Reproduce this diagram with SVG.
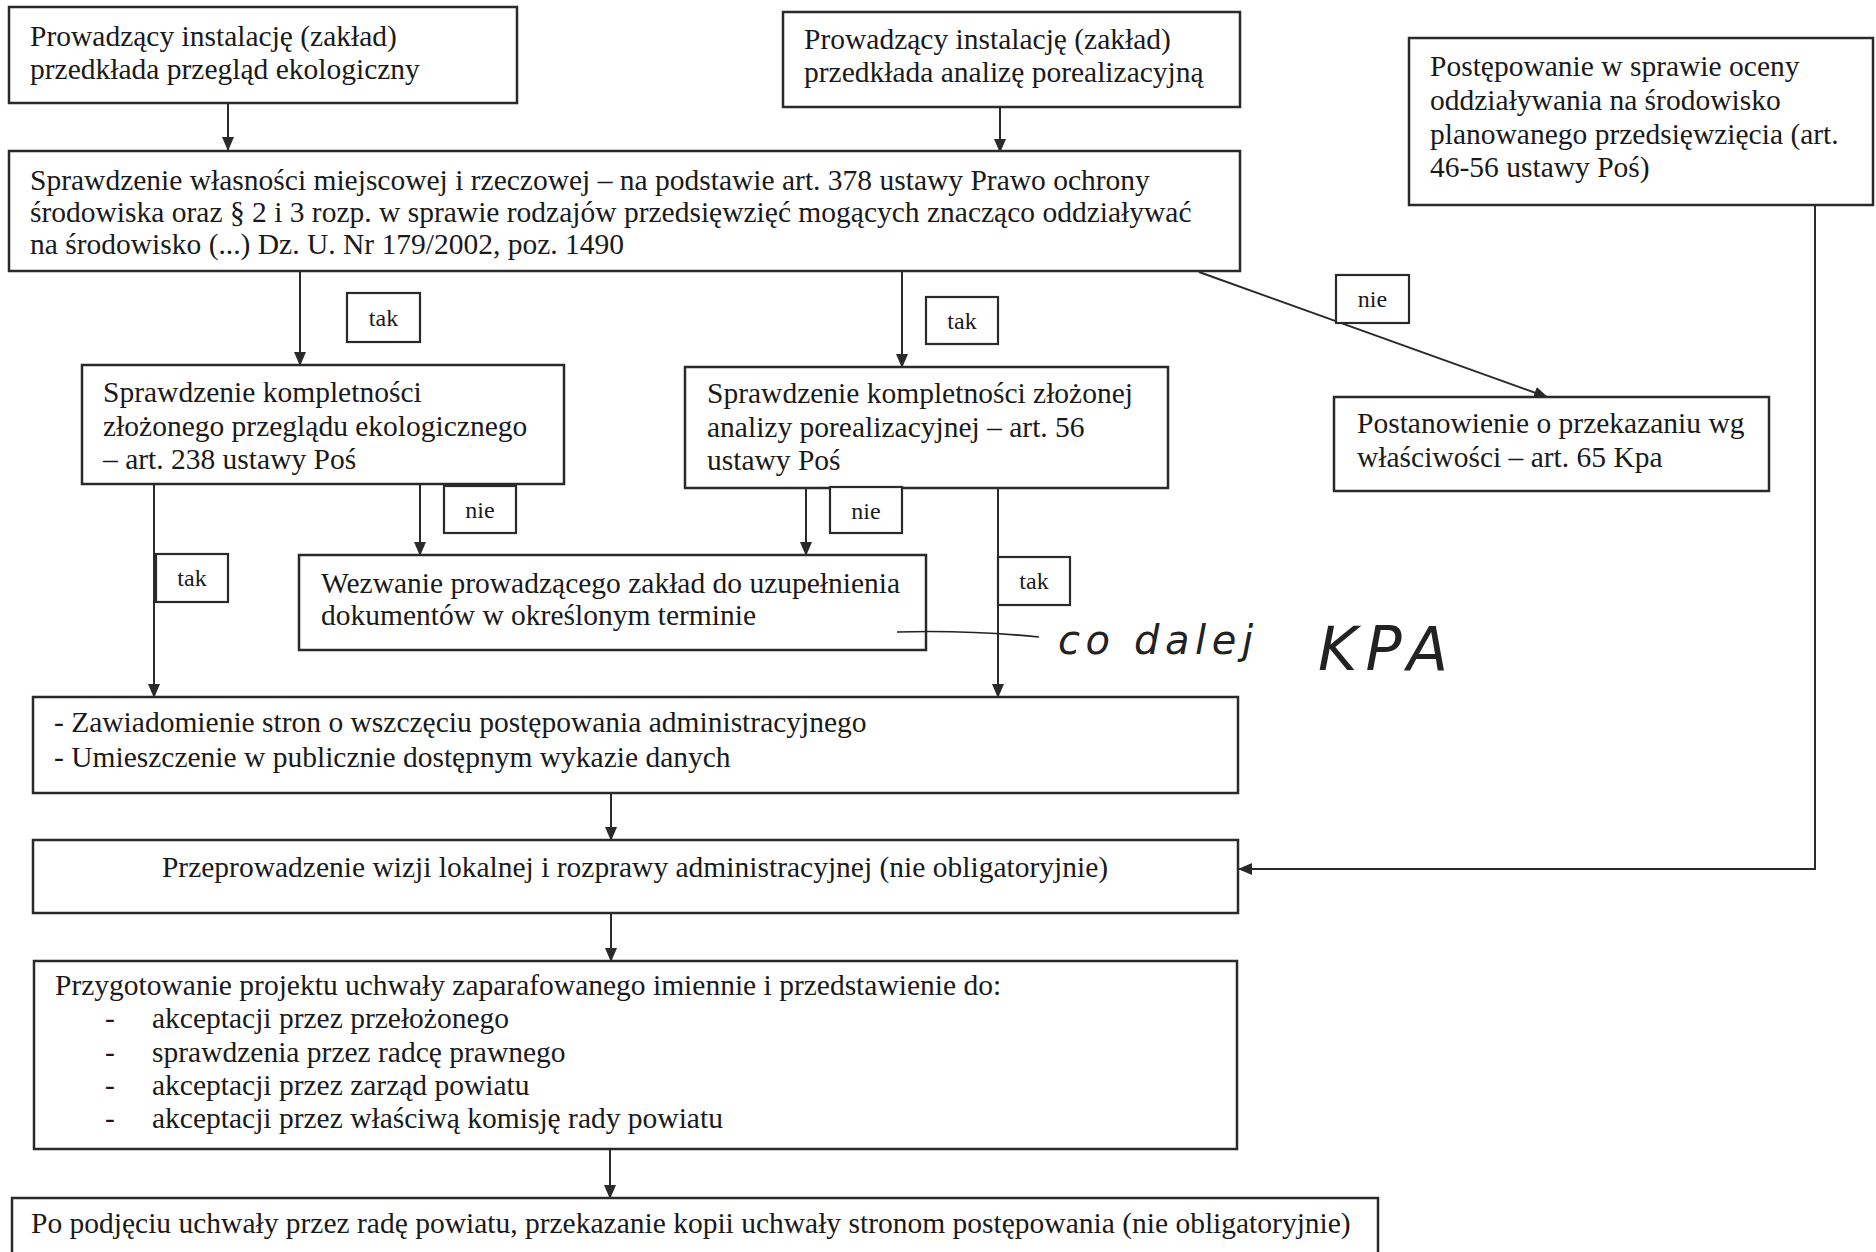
<svg xmlns="http://www.w3.org/2000/svg" width="1876" height="1252" viewBox="0 0 1876 1252">
<defs>
<style>
.box{fill:#ffffff;stroke:#2a2a2a;stroke-width:2.5}
.lbl{fill:#ffffff;stroke:#2a2a2a;stroke-width:2.2}
.t{font-family:"Liberation Serif","Times New Roman",serif;font-size:29.5px;fill:#1a1a1a}
.s{font-family:"Liberation Serif","Times New Roman",serif;font-size:24px;fill:#1a1a1a;text-anchor:middle}
.c{fill:none;stroke:#2a2a2a;stroke-width:2}
.hw{font-family:"DejaVu Sans",sans-serif;font-style:italic;fill:#222}
</style>
<marker id="ah" markerWidth="14" markerHeight="14" refX="13" refY="7" orient="auto" markerUnits="userSpaceOnUse">
<path d="M0,1 L14,7 L0,13 Z" fill="#2a2a2a"/>
</marker>
</defs>
<rect width="1876" height="1252" fill="#ffffff"/>

<g id="connectors">
<line class="c" x1="228" y1="103" x2="228" y2="150" marker-end="url(#ah)"/>
<line class="c" x1="1000" y1="107" x2="1000" y2="152" marker-end="url(#ah)"/>
<line class="c" x1="300" y1="271" x2="300" y2="365" marker-end="url(#ah)"/>
<line class="c" x1="902" y1="272" x2="902" y2="367" marker-end="url(#ah)"/>
<line class="c" x1="1199" y1="272" x2="1547" y2="397" marker-end="url(#ah)"/>
<line class="c" x1="420" y1="484" x2="420" y2="555" marker-end="url(#ah)"/>
<line class="c" x1="806" y1="487" x2="806" y2="555" marker-end="url(#ah)"/>
<line class="c" x1="154" y1="484" x2="154" y2="697" marker-end="url(#ah)"/>
<line class="c" x1="998" y1="488" x2="998" y2="697" marker-end="url(#ah)"/>
<line class="c" x1="611" y1="793" x2="611" y2="840" marker-end="url(#ah)"/>
<line class="c" x1="611" y1="913" x2="611" y2="961" marker-end="url(#ah)"/>
<line class="c" x1="610" y1="1149" x2="610" y2="1198" marker-end="url(#ah)"/>
<polyline class="c" points="1815,205 1815,869 1239,869" marker-end="url(#ah)"/>
</g>

<g id="n1"><rect class="box" x="9" y="7" width="508" height="96"/>
<text class="t" x="30" y="46">Prowadzący instalację (zakład)</text>
<text class="t" x="30" y="79">przedkłada przegląd ekologiczny</text></g>

<g id="n2"><rect class="box" x="783" y="12" width="457" height="95"/>
<text class="t" x="804" y="49">Prowadzący instalację (zakład)</text>
<text class="t" x="804" y="82">przedkłada analizę porealizacyjną</text></g>

<g id="n3"><rect class="box" x="1409" y="38" width="464" height="167"/>
<text class="t" x="1430" y="76">Postępowanie w sprawie oceny</text>
<text class="t" x="1430" y="110">oddziaływania na środowisko</text>
<text class="t" x="1430" y="144">planowanego przedsięwzięcia (art.</text>
<text class="t" x="1430" y="177">46-56 ustawy Poś)</text></g>

<g id="n4"><rect class="box" x="9" y="151" width="1231" height="120"/>
<text class="t" x="30" y="190">Sprawdzenie własności miejscowej i rzeczowej – na podstawie art. 378 ustawy Prawo ochrony</text>
<text class="t" x="30" y="222">środowiska oraz § 2 i 3 rozp. w sprawie rodzajów przedsięwzięć mogących znacząco oddziaływać</text>
<text class="t" x="30" y="254">na środowisko (...) Dz. U. Nr 179/2002, poz. 1490</text></g>

<g id="l1"><rect class="lbl" x="347" y="293" width="73" height="49"/><text class="s" x="383.5" y="326">tak</text></g>
<g id="l2"><rect class="lbl" x="926" y="297" width="72" height="47"/><text class="s" x="962" y="329">tak</text></g>
<g id="l3"><rect class="lbl" x="1336" y="275" width="73" height="48"/><text class="s" x="1372.5" y="307">nie</text></g>

<g id="n5"><rect class="box" x="82" y="365" width="482" height="119"/>
<text class="t" x="103" y="402">Sprawdzenie kompletności</text>
<text class="t" x="103" y="436">złożonego przeglądu ekologicznego</text>
<text class="t" x="103" y="469">– art. 238 ustawy Poś</text></g>

<g id="n6"><rect class="box" x="685" y="367" width="483" height="121"/>
<text class="t" x="707" y="403">Sprawdzenie kompletności złożonej</text>
<text class="t" x="707" y="437">analizy porealizacyjnej – art. 56</text>
<text class="t" x="707" y="470">ustawy Poś</text></g>

<g id="n7"><rect class="box" x="1334" y="397" width="435" height="94"/>
<text class="t" x="1357" y="433">Postanowienie o przekazaniu wg</text>
<text class="t" x="1357" y="467">właściwości – art. 65 Kpa</text></g>

<g id="l4"><rect class="lbl" x="444" y="486" width="72" height="47"/><text class="s" x="480" y="518">nie</text></g>
<g id="l5"><rect class="lbl" x="830" y="487" width="72" height="46"/><text class="s" x="866" y="519">nie</text></g>
<g id="l6"><rect class="lbl" x="156" y="554" width="72" height="48"/><text class="s" x="192" y="586">tak</text></g>
<g id="l7"><rect class="lbl" x="998" y="557" width="72" height="48"/><text class="s" x="1034" y="589">tak</text></g>

<g id="n8"><rect class="box" x="299" y="555" width="627" height="95"/>
<text class="t" x="321" y="593">Wezwanie prowadzącego zakład do uzupełnienia</text>
<text class="t" x="321" y="625">dokumentów w określonym terminie</text></g>

<g id="n9"><rect class="box" x="33" y="697" width="1205" height="96"/>
<text class="t" x="54" y="732">- Zawiadomienie stron o wszczęciu postępowania administracyjnego</text>
<text class="t" x="54" y="767">- Umieszczenie w publicznie dostępnym wykazie danych</text></g>

<g id="n10"><rect class="box" x="33" y="840" width="1205" height="73"/>
<text class="t" x="635" y="877" text-anchor="middle">Przeprowadzenie wizji lokalnej i rozprawy administracyjnej (nie obligatoryjnie)</text></g>

<g id="n11"><rect class="box" x="34" y="961" width="1203" height="188"/>
<text class="t" x="55" y="995">Przygotowanie projektu uchwały zaparafowanego imiennie i przedstawienie do:</text>
<text class="t" x="105" y="1028">-</text><text class="t" x="152" y="1028">akceptacji przez przełożonego</text>
<text class="t" x="105" y="1062">-</text><text class="t" x="152" y="1062">sprawdzenia przez radcę prawnego</text>
<text class="t" x="105" y="1095">-</text><text class="t" x="152" y="1095">akceptacji przez zarząd powiatu</text>
<text class="t" x="105" y="1128">-</text><text class="t" x="152" y="1128">akceptacji przez właściwą komisję rady powiatu</text></g>

<g id="n12"><rect class="box" x="12" y="1198" width="1366" height="70"/>
<text class="t" x="31" y="1233">Po podjęciu uchwały przez radę powiatu, przekazanie kopii uchwały stronom postępowania (nie obligatoryjnie)</text></g>

<g id="handnote">
<path d="M897,632 Q970,630 1039,637" fill="none" stroke="#222" stroke-width="1.6"/>
<text class="hw" x="1058" y="654" font-size="40" textLength="195" lengthAdjust="spacing">co dalej</text>
<text class="hw" x="1318" y="670" font-size="60" textLength="130" lengthAdjust="spacing">KPA</text>
</g>
</svg>
